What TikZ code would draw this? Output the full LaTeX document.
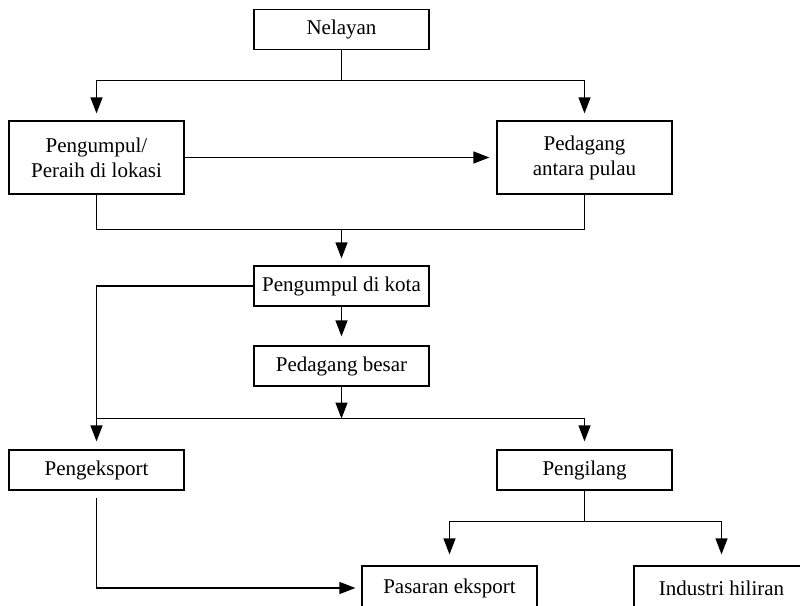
\documentclass[tikz,border=0pt]{standalone}
\usepackage{fontspec}
\setmainfont{Liberation Serif}
\usetikzlibrary{arrows.meta,calc}
\tikzset{
  box/.style={draw, line width=1.2pt, minimum width=175pt, minimum height=40pt, inner sep=0pt, align=center, font=\fontsize{21}{25}\selectfont},
  conn/.style={line width=1.2pt},
  arr/.style={line width=1.2pt, -{Triangle[length=16pt,width=12pt]}},
}
\begin{document}
\begin{tikzpicture}[x=1pt,y=-1pt]
\useasboundingbox (0,0) rectangle (800,605);
\clip (0,0) rectangle (800,605);
\node[box] (nel) at (341.5,29.5) {Nelayan};
\node[box, minimum height=73pt] (pk) at (96.5,157.5) {Pengumpul/\\Peraih di lokasi};
\node[box, minimum height=73pt] (pap) at (584.5,157.5) {Pedagang\\antara pulau};
\node[box] (pkota) at (341.5,286) {Pengumpul di kota};
\node[box] (pb) at (341.5,366) {Pedagang besar};
\node[box] (pe) at (96.5,470) {Pengeksport};
\node[box] (pg) at (584.5,470) {Pengilang};
\node[box, minimum height=44pt] (pas) at (449.5,588) {Pasaran eksport};
\node[box, minimum height=44pt] (ind) at (721.5,588) {Industri hiliran};

\coordinate (j1) at ($(nel.south)+(0,30)$);
\draw[conn] (nel.south) -- (j1);
\draw[arr, shorten >=7pt] (j1) -| (pk.north);
\draw[arr, shorten >=7pt] (j1) -| (pap.north);
\draw[arr, shorten >=7pt] (pk.east) -- (pap.west);

\coordinate (j2) at ($(pk.south)+(0,35)$);
\draw[conn] (pk.south) -- (j2) -| (pap.south);
\draw[arr, shorten >=7pt] (pkota.north |- j2) -- (pkota.north);
\draw[arr, shorten >=9pt] (pkota.south) -- (pb.north);
\draw[arr, shorten >=8pt] (pkota.west) -| (pe.north);

\coordinate (j3) at ($(pb.south)+(0,32)$);
\draw[arr] (pb.south) -- (j3);
\draw[arr, shorten >=8pt] (pe.north |- j3) -| (pg.north);

\draw[arr, shorten <=7pt, shorten >=6pt] (pe.south) |- (pas.west);

\coordinate (j4) at ($(pg.south)+(0,31)$);
\draw[conn] (pg.south) -- (j4);
\draw[arr, shorten >=11pt] (j4) -| (pas.north);
\draw[arr, shorten >=11pt] (j4) -| (ind.north);
\end{tikzpicture}
\end{document}
